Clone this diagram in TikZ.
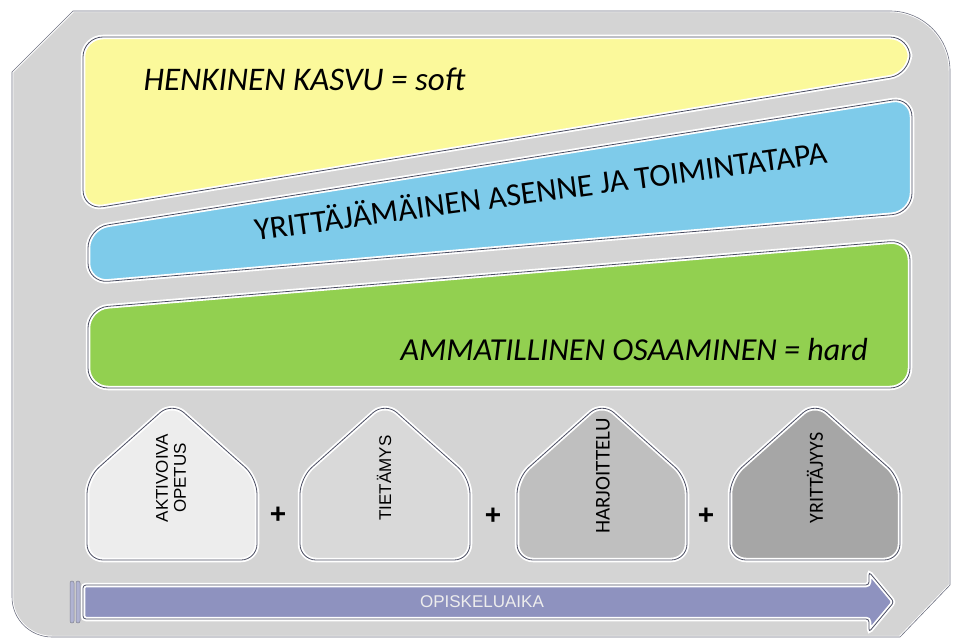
\documentclass[tikz,border=0pt]{standalone}
\usepackage{fontspec}
\setmainfont{Liberation Sans}
\newfontfamily\calibri{Carlito}

\definecolor{taustaC}{HTML}{D4D4D4}
\definecolor{keltC}{HTML}{FBF99B}
\definecolor{siniC}{HTML}{7ECBEA}
\definecolor{vihrC}{HTML}{92D050}
\definecolor{nuoliC}{HTML}{8E92BF}
\definecolor{reunaC}{HTML}{4A4D62}

\tikzset{
  kaista/.style={preaction={fill=#1}, draw=white, line width=4.5pt,
    postaction={draw=reunaC, line width=.8pt}},
  isoteksti/.style={font=\calibri\fontsize{32}{32}\selectfont},
  talolabel/.style={rotate=90, align=center, font=\fontsize{17}{18}\selectfont},
  plus/.style={font=\bfseries\fontsize{28}{28}\selectfont},
}

% talo : nimi, keskikohta x, vari
\newcommand\talo[3]{
  \draw[kaista=#3, rounded corners=16pt] (#2, 560) -- ({#2-85}, 560) -- ({#2-85}, 478)
     -- (#2, 402) -- ({#2+85}, 478) -- ({#2+85}, 560) -- cycle ;
  \coordinate (#1) at (#2, 480) ;
}

\begin{document}
\begin{tikzpicture}[x=1pt, y=-1pt, >=stealth]
  \useasboundingbox (0, 0) rectangle (953, 639) ;
  % tausta
  \draw[fill=taustaC, draw=white, line width=2.5pt] (12, 72) -- (73, 11) -- (890, 11) arc (-90:0:60)
     -- (950, 585) -- (900, 637) -- (52, 637) arc (90:180:40) -- cycle ;
  \draw[draw=reunaC!80, line width=.6pt] (12, 72) -- (73, 11) -- (890, 11) arc (-90:0:60)
     -- (950, 585) -- (900, 637) -- (52, 637) arc (90:180:40) -- cycle ;

  % kaistat
  \draw[kaista=keltC, rounded corners=20pt] (83, 37) -- (910, 37) -- (910, 74) -- (83, 210) -- cycle ;
  \draw[kaista=siniC, rounded corners=20pt] (88, 228) -- (912, 97) -- (912, 213) -- (88, 283) -- cycle ;
  \draw[kaista=vihrC, rounded corners=20pt] (88, 308) -- (910, 240) -- (910, 388) -- (88, 388) -- cycle ;

  \node[isoteksti, anchor=base west, font=\calibri\fontsize{33}{33}\selectfont] (soft) at (140, 91) {\itshape HENKINEN KASVU = soft} ;
  \node[isoteksti, anchor=base, rotate=7.7] (asenne) at (542, 202) {YRITTÄJÄMÄINEN ASENNE JA TOIMINTATAPA} ;
  \node[isoteksti, anchor=base west] (hard) at (397, 360) {\itshape AMMATILLINEN OSAAMINEN = hard} ;

  % talot
  \talo{t1}{172}{black!7}
  \talo{t2}{385}{black!15}
  \talo{t3}{602}{black!25}
  \talo{t4}{815}{black!35}

  \node[talolabel] (aktivoiva) at (171, 478) {AKTIVOIVA\\OPETUS} ;
  \node[talolabel] (tietamys) at (384, 478) {TIETÄMYS} ;
  \node[talolabel, font=\calibri\fontsize{21}{21}\selectfont] (harjoittelu) at (603, 476) {HARJOITTELU} ;
  \node[talolabel, font=\calibri\fontsize{20}{20}\selectfont] (yrittajyys) at (815, 478) {YRITTÄJYYS} ;

  \node[plus] (p1) at (278, 515) {+} ;
  \node[plus] (p2) at (493, 516) {+} ;
  \node[plus] (p3) at (706, 516) {+} ;

  % nuoli
  \draw[kaista=nuoliC, rounded corners=3pt] (83, 585) -- (869, 585) -- (869, 572) -- (894, 602)
     -- (869, 632) -- (869, 619) -- (83, 619) -- cycle ;
  \foreach \xx in {70, 76} {
    \draw[fill=nuoliC!70, draw=reunaC!70, line width=.5pt, rounded corners=2pt]
       (\xx, 581) rectangle ++ (4, 42) ;
  }
  \node[text=white!93!black, font=\fontsize{17}{17}\selectfont] (aika) at (482, 602) {OPISKELUAIKA} ;
\end{tikzpicture}
\end{document}
